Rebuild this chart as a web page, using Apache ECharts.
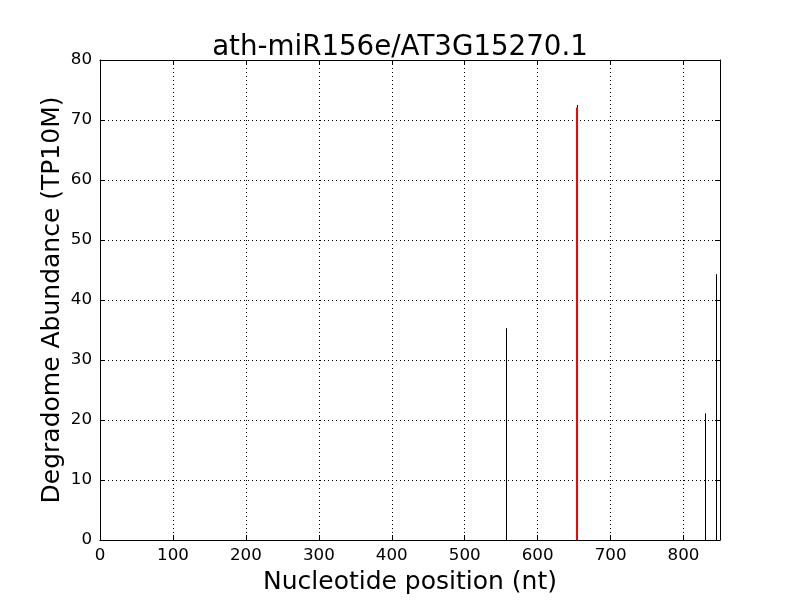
<!DOCTYPE html>
<html><head><meta charset="utf-8">
<script src="https://cdn.jsdelivr.net/npm/echarts@6/dist/echarts.min.js"></script>
<style>html,body{margin:0;padding:0;background:#fff}#c{width:800px;height:600px}</style>
</head><body><div id="c"></div>
<script>
const titleText = "ath-miR156e/AT3G15270.1";
const positions = [556, 654, 830, 845];
const abundances = [35.3, 72.5, 21.1, 44.3];
const sitePositions = [654];
const siteAbundances = [72.1];
const xTicks = [0, 100, 200, 300, 400, 500, 600, 700, 800];
const yTicks = [0, 10, 20, 30, 40, 50, 60, 70, 80];

const blackData = positions.map((p, i) => [p, abundances[i]]);
const redData = sitePositions.map((p, i) => [p, siteAbundances[i]]);

function stem(color, width) {
  return function (params, api) {
    const x = api.value(0), y = api.value(1);
    const p0 = api.coord([x, 0]);
    const p1 = api.coord([x, y]);
    const off = width % 2 ? 0.5 : 0;
    return {
      type: 'line',
      shape: { x1: Math.round(p0[0]) + off, y1: p0[1], x2: Math.round(p1[0]) + off, y2: p1[1] },
      style: { stroke: color, lineWidth: width }
    };
  };
}

const font = 'DejaVu Sans';
const chart = echarts.init(document.getElementById('c'), null, { renderer: 'canvas' });
const axisLine = { onZero: false, lineStyle: { color: '#000', width: 1 } };
const xTick = { inside: true, length: 5, customValues: xTicks, lineStyle: { color: '#000' } };
const yTick = { inside: true, length: 5, customValues: yTicks, lineStyle: { color: '#000' } };
const grid = { show: true, lineStyle: { color: '#000', type: [1, 3], width: 1 } };
chart.setOption({
  animation: false,
  backgroundColor: '#fff',
  title: { text: titleText, left: 'center', top: 29, textStyle: { fontFamily: font, fontSize: 27.7, fontWeight: 'normal', color: '#000' } },
  grid: { left: 100, right: 80, top: 60, bottom: 60, containLabel: false, outerBoundsMode: 'none' },
  xAxis: [{
    type: 'value', min: 0, max: 850, interval: 100, position: 'bottom',
    name: 'Nucleotide position (nt)', nameLocation: 'middle', nameGap: 30, nameMoveOverlap: false,
    nameTextStyle: { fontFamily: font, fontSize: 25, color: '#000' },
    axisLine, axisTick: xTick,
    axisLabel: { fontFamily: font, fontSize: 16.7, color: '#000', margin: 7, customValues: xTicks },
    splitLine: grid
  }, {
    type: 'value', min: 0, max: 850, interval: 100, position: 'top',
    axisLine, axisTick: xTick, axisLabel: { show: false }, splitLine: { show: false }
  }],
  yAxis: [{
    type: 'value', min: 0, max: 80, interval: 10, position: 'left',
    name: 'Degradome Abundance (TP10M)', nameLocation: 'middle', nameGap: 35, nameMoveOverlap: false,
    nameTextStyle: { fontFamily: font, fontSize: 25, color: '#000' },
    axisLine, axisTick: yTick,
    axisLabel: { fontFamily: font, fontSize: 16.7, color: '#000', margin: 8, customValues: yTicks },
    splitLine: grid
  }, {
    type: 'value', min: 0, max: 80, interval: 10, position: 'right',
    axisLine, axisTick: yTick, axisLabel: { show: false }, splitLine: { show: false }
  }],
  series: [
    { type: 'custom', renderItem: stem('#000', 1), data: blackData, encode: { x: 0, y: 1 }, z: 3 },
    { type: 'custom', renderItem: stem('#ff0000', 2), data: redData, encode: { x: 0, y: 1 }, z: 4 }
  ]
});
</script></body></html>
